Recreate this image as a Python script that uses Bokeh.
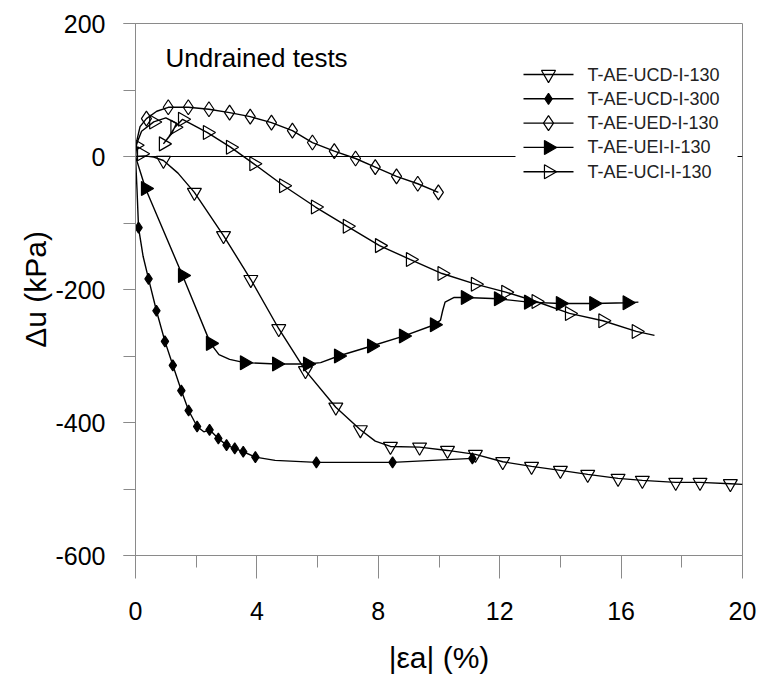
import math
from bokeh.plotting import figure
from bokeh.models import Range1d, SingleIntervalTicker, Span, Label
from bokeh.embed import file_html
from bokeh.resources import INLINE

FONT = "Liberation Sans"

# ---- data ----
# T-AE-UCD-I-130 (open down triangles)
ucd130_line_x = [0, 0.3, 0.6, 0.92, 1.4, 1.94, 2.9, 3.8, 4.72, 5.6, 6.6, 7.41, 7.9, 8.4, 9.36, 10.28, 11.2, 12.1, 13.05, 14.0, 14.9, 15.9, 16.7, 17.8, 18.6, 19.6, 20.0]
ucd130_line_y = [0, 1, -1, -6, -25, -54, -119, -185, -259, -322, -377, -411, -428, -436, -437, -442, -448, -459, -466, -472, -478, -484, -487, -490, -490, -492, -493]
ucd130_mark_x = [0.92, 1.94, 2.9, 3.8, 4.72, 5.6, 6.6, 7.41, 8.4, 9.36, 10.28, 11.2, 12.1, 13.05, 14.0, 14.9, 15.9, 16.7, 17.8, 18.6, 19.6]
ucd130_mark_y = [-6, -54, -119, -185, -259, -322, -377, -411, -436, -437, -442, -448, -459, -466, -472, -478, -484, -487, -490, -490, -492]

# T-AE-UCD-I-300 (filled small diamonds)
ucd300_line_x = [0, 0.05, 0.1, 0.25, 0.43, 0.69, 0.97, 1.23, 1.51, 1.75, 2.03, 2.25, 2.44, 2.73, 3.0, 3.27, 3.55, 3.95, 4.6, 5.96, 8.47, 11.1]
ucd300_line_y = [0, -50, -107, -150, -184, -232, -278, -314, -352, -382, -406, -414, -411, -424, -434, -439, -444, -452, -457, -460, -460, -454]
ucd300_mark_x = [0.1, 0.43, 0.69, 0.97, 1.23, 1.51, 1.75, 2.03, 2.44, 2.73, 3.0, 3.27, 3.55, 3.95, 5.96, 8.47, 11.1]
ucd300_mark_y = [-107, -184, -232, -278, -314, -352, -382, -406, -411, -424, -434, -439, -444, -452, -460, -460, -454]

# T-AE-UED-I-130 (open narrow diamonds)
ued_line_x = [0, 0.05, 0.15, 0.36, 0.7, 1.08, 1.74, 2.42, 3.1, 3.78, 4.48, 5.17, 5.83, 6.55, 7.25, 7.9, 8.6, 9.3, 9.98]
ued_line_y = [0, 25, 45, 57, 68, 74, 74, 71, 66, 60, 51, 39, 21, 8, -3, -16, -30, -41, -54]
ued_mark_x = [0.36, 1.08, 1.74, 2.42, 3.1, 3.78, 4.48, 5.17, 5.83, 6.55, 7.25, 7.9, 8.6, 9.3, 9.98]
ued_mark_y = [57, 74, 74, 71, 66, 60, 51, 39, 21, 8, -3, -16, -30, -41, -54]

# T-AE-UEI-I-130 (filled right triangles)
uei_line_x = [0, 0.33, 1.55, 2.47, 2.75, 3.1, 3.59, 4.65, 5.67, 6.1, 6.69, 7.78, 8.83, 9.85, 10.05, 10.12, 10.2, 10.5, 10.87, 11.96, 12.95, 14.0, 15.1, 16.2, 16.57]
uei_line_y = [0, -48, -179, -281, -298, -305, -310, -312, -312, -310, -300, -285, -270, -253, -246, -232, -219, -212, -212, -214, -219, -221, -221, -220, -219]
uei_mark_x = [0.33, 1.55, 2.47, 3.59, 4.65, 5.67, 6.69, 7.78, 8.83, 9.85, 10.87, 11.96, 12.95, 14.0, 15.1, 16.2]
uei_mark_y = [-48, -179, -281, -310, -312, -312, -300, -285, -270, -253, -212, -214, -219, -221, -221, -220]

# T-AE-UCI-I-130 (open right triangles)
uci_line_x = [0, 0.02, 0.2, 0.6, 1.0, 1.35, 1.2, 0.92, 1.1, 1.3, 1.55, 2.37, 3.13, 3.9, 4.88, 5.93, 6.98, 8.04, 9.06, 10.1, 11.2, 12.2, 13.2, 14.3, 15.4, 16.5, 17.1]
uci_line_y = [0, 17, 38, 52, 58, 50, 35, 19, 30, 44, 56, 36, 14, -11, -44, -76, -105, -134, -155, -176, -192, -204, -218, -236, -247, -263, -269]
uci_mark_x = [0.02, 0.2, 0.6, 0.92, 1.3, 1.55, 2.37, 3.13, 3.9, 4.88, 5.93, 6.98, 8.04, 9.06, 10.1, 11.2, 12.2, 13.2, 14.3, 15.4, 16.5]
uci_mark_y = [17, 4, 52, 19, 44, 56, 36, 14, -11, -44, -76, -105, -134, -155, -176, -192, -204, -218, -236, -247, -263]

y_tick_labels = {200: "200", 0: "0", -200: "-200", -400: "-400", -600: "-600"}
x_label = "|εa| (%)"
y_label = "Δu (kPa)"
title_text = "Undrained tests"

# ---- layout ----
W, H = 760, 682
FRAME_L, FRAME_T, FRAME_R, FRAME_B = 135, 23, 742, 555
X0, X1, Y0, Y1 = 0, 20, -600, 200


def dx(px):
    return X0 + (px - FRAME_L) / (FRAME_R - FRAME_L) * (X1 - X0)


def dy(py):
    return Y1 - (py - FRAME_T) / (FRAME_B - FRAME_T) * (Y1 - Y0)


p = figure(width=W, height=H, output_backend="svg", toolbar_location=None,
           x_range=Range1d(X0, X1), y_range=Range1d(Y0, Y1),
           min_border_left=FRAME_L, min_border_right=W - FRAME_R,
           min_border_top=FRAME_T, min_border_bottom=H - FRAME_B)
p.background_fill_color = "white"
p.border_fill_color = "white"
p.outline_line_color = "#8a8a8a"
p.outline_line_width = 1
p.xgrid.visible = False
p.ygrid.visible = False

zero = Span(location=0, dimension="width", line_color="black", line_width=1.2, level="underlay")
p.add_layout(zero)

ax = p.xaxis[0]
ax.ticker = SingleIntervalTicker(interval=4, num_minor_ticks=2)
ax.major_tick_out = 23
ax.major_tick_in = 0
ax.minor_tick_out = 12
ax.minor_tick_in = 0
ay = p.yaxis[0]
ay.ticker = SingleIntervalTicker(interval=200, num_minor_ticks=2)
ay.major_tick_out = 12
ay.major_tick_in = 0
ay.minor_tick_out = 12
ay.minor_tick_in = 0
ay.major_label_overrides = y_tick_labels
for a in (ax, ay):
    a.axis_line_color = "#8a8a8a"
    a.major_tick_line_color = "#8a8a8a"
    a.minor_tick_line_color = "#8a8a8a"
    a.major_label_text_font = FONT
    a.major_label_text_font_size = "25px"
    a.major_label_text_color = "black"
    a.axis_label_text_font = FONT
    a.axis_label_text_font_size = "30px"
    a.axis_label_text_font_style = "normal"
    a.axis_label_text_color = "black"
ax.axis_label = x_label
ay.axis_label = y_label
ax.major_label_standoff = 23
ay.major_label_standoff = 18
ax.axis_label_standoff = 18
ay.axis_label_standoff = 0

LW = 1.4
series = [
    ("T-AE-UCD-I-130", ucd130_line_x, ucd130_line_y, ucd130_mark_x, ucd130_mark_y, "inverted_triangle", 14, None, 0),
    ("T-AE-UCD-I-300", ucd300_line_x, ucd300_line_y, ucd300_mark_x, ucd300_mark_y, "diamond", 11, "black", 0),
    ("T-AE-UED-I-130", ued_line_x, ued_line_y, ued_mark_x, ued_mark_y, "diamond", 15, None, 0),
    ("T-AE-UEI-I-130", uei_line_x, uei_line_y, uei_mark_x, uei_mark_y, "triangle", 14, "black", -math.pi / 2),
    ("T-AE-UCI-I-130", uci_line_x, uci_line_y, uci_mark_x, uci_mark_y, "triangle", 14, None, -math.pi / 2),
]
for name, lx, ly, mx, my, marker, size, fill, ang in series:
    p.line(lx, ly, line_color="black", line_width=LW)
    p.scatter(mx, my, marker=marker, size=size, angle=ang, line_color="black", line_width=1.2,
              fill_color=fill)

# ---- legend (drawn by hand so that the rotated markers show) ----
LEG_BOX = (515, 60, 737, 186)      # left, top, right, bottom in pixels
LEG_ROW0, LEG_STEP = 74, 24.3
LEG_LINE = (523, 573)
LEG_TEXT_X = 587
p.quad(left=[dx(LEG_BOX[0])], right=[dx(LEG_BOX[2])], top=[dy(LEG_BOX[1])], bottom=[dy(LEG_BOX[3])],
       fill_color="white", line_color=None)
for i, (name, lx, ly, mx, my, marker, size, fill, ang) in enumerate(series):
    ry = dy(LEG_ROW0 + i * LEG_STEP)
    p.line([dx(LEG_LINE[0]), dx(LEG_LINE[1])], [ry, ry], line_color="black", line_width=LW)
    p.scatter([dx((LEG_LINE[0] + LEG_LINE[1]) / 2)], [ry], marker=marker, size=size, angle=ang,
              line_color="black", line_width=1.2, fill_color=fill)
    p.add_layout(Label(x=dx(LEG_TEXT_X), y=ry, text=name, text_font=FONT, text_font_size="18px",
                       text_baseline="middle", text_align="left", text_color="#222222"))

p.add_layout(Label(x=dx(165), y=dy(57), text=title_text, text_font=FONT, text_font_size="26px",
                   text_baseline="middle", text_align="left", text_color="black"))

open("out.html", "w").write(file_html(p, INLINE))
